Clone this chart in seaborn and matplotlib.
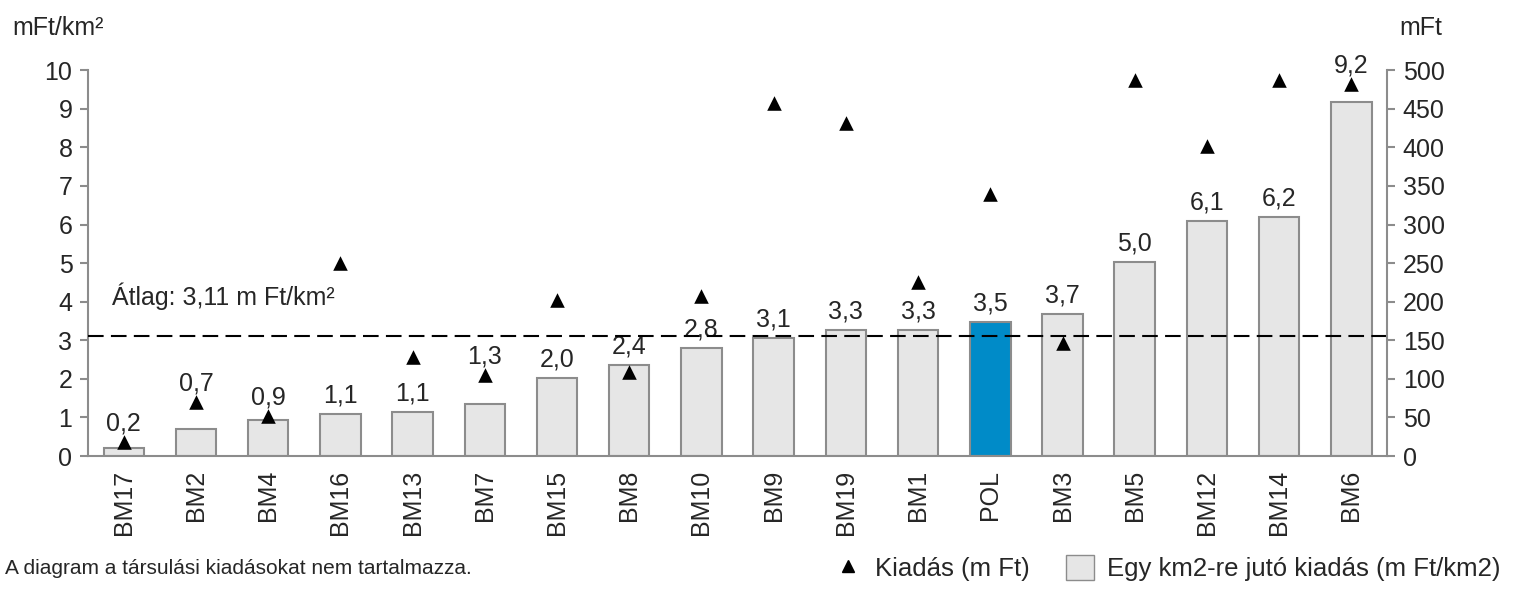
import numpy as np
import pandas as pd
import matplotlib.pyplot as plt
import seaborn as sns
from matplotlib.lines import Line2D
from matplotlib.patches import Patch

# data
regions = ["BM17", "BM2", "BM4", "BM16", "BM13", "BM7", "BM15", "BM8", "BM10",
           "BM9", "BM19", "BM1", "POL", "BM3", "BM5", "BM12", "BM14", "BM6"]
per_km2 = [0.21, 0.70, 0.94, 1.10, 1.14, 1.34, 2.02, 2.36, 2.80,
           3.06, 3.27, 3.27, 3.47, 3.68, 5.04, 6.10, 6.20, 9.17]
kiadas = [18, 70, 52, 250, 128, 105, 202, 109, 207,
          457, 431, 225, 340, 146, 487, 402, 487, 482]
atlag = 3.11

GREY = "#8c8c8c"
FILL = "#e6e6e6"
BLUE = "#008bc8"

sns.set_style("white")
plt.rcParams["font.family"] = ["Liberation Sans", "DejaVu Sans"]
FS = 18

df = pd.DataFrame({"region": regions, "per_km2": per_km2, "kiadas": kiadas})
colors = {r: (BLUE if r == "POL" else FILL) for r in regions}

fig = plt.figure(figsize=(15.13, 5.90), dpi=100)
ax = fig.add_axes([0.058, 0.227, 0.859, 0.654])

sns.barplot(data=df, x="region", y="per_km2", hue="region", palette=colors,
            legend=False, width=0.56, edgecolor=GREY, linewidth=1.5,
            saturation=1, ax=ax)
ax.set_xlim(-0.5, len(regions) - 0.5)
ax.set_ylim(0, 10)
ax.set_yticks(range(0, 11))
ax.set_xlabel("")
ax.set_ylabel("")
ax.tick_params(axis="y", labelsize=FS, length=6, color=GREY, width=1.5, pad=5)
ax.tick_params(axis="x", labelsize=FS, rotation=90, length=0, pad=10)
for s in ["top", "right"]:
    ax.spines[s].set_visible(False)
for s in ["left", "bottom"]:
    ax.spines[s].set_color(GREY)
    ax.spines[s].set_linewidth(1.5)

ax.axhline(atlag, color="black", linestyle=(0, (7.5, 3.5)), linewidth=1.5, zorder=5)
ax.text(-0.17, 4.15, "Átlag: 3,11 m Ft/km²", fontsize=FS, va="center", ha="left")

ax2 = ax.twinx()
sns.scatterplot(data=df, x="region", y="kiadas", marker="^", color="black",
                s=110, edgecolor="black", linewidth=0, ax=ax2, zorder=6)
ax2.set_ylim(0, 500)
ax2.set_yticks(range(0, 501, 50))
ax2.set_ylabel("")
ax2.tick_params(axis="y", labelsize=FS, length=6, color=GREY, width=1.5, pad=5)
for s in ["top", "left", "bottom"]:
    ax2.spines[s].set_visible(False)
ax2.spines["right"].set_color(GREY)
ax2.spines["right"].set_linewidth(1.5)

# value labels: lift above the triangle when it sits just over the bar
for i, (v, k) in enumerate(zip(per_km2, kiadas)):
    tri = k / 50
    top = tri if 0 <= tri - v < 1 else v
    ax.text(i, top + 0.3, f"{v:.1f}".replace(".", ","), ha="center",
            va="baseline", fontsize=FS)

fig.text(0.008, 0.953, "mFt/km²", fontsize=FS, va="center")
fig.text(0.925, 0.953, "mFt", fontsize=FS, va="center")
fig.text(0.003, 0.037, "A diagram a társulási kiadásokat nem tartalmazza.",
         fontsize=15, va="center")

handles = [Line2D([], [], marker="^", color="black", linestyle="none", markersize=8),
           Patch(facecolor=FILL, edgecolor=GREY, linewidth=1)]
fig.legend(handles, ["Kiadás (m Ft)", "Egy km2-re jutó kiadás (m Ft/km2)"],
           loc="center right", bbox_to_anchor=(1.0, 0.037), ncol=2, frameon=False,
           fontsize=18.5, handlelength=1.1, handleheight=1.1, handletextpad=0.5,
           columnspacing=1.4, borderaxespad=0.1)

fig.savefig("out.png", dpi=100)
